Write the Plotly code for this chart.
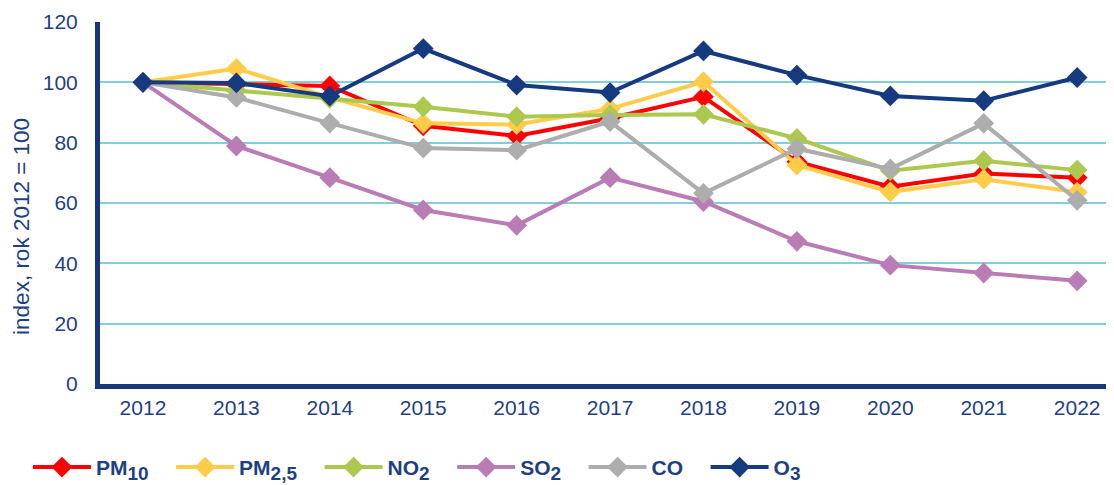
import plotly.graph_objects as go

years = ["2012", "2013", "2014", "2015", "2016", "2017", "2018", "2019", "2020", "2021", "2022"]

pm10 = [100, 99.3, 98.8, 85.6, 82.2, 88.1, 95.2, 73.7, 65.4, 69.8, 68.4]
pm25 = [100, 104.6, 95.0, 86.4, 86.0, 91.2, 100.2, 72.6, 63.7, 67.9, 63.6]
no2 = [100, 97.2, 94.7, 91.9, 88.6, 89.2, 89.4, 81.4, 70.7, 74.0, 70.9]
so2 = [100, 78.9, 68.4, 57.7, 52.6, 68.4, 60.5, 47.3, 39.4, 36.8, 34.2]
co = [100, 95.0, 86.5, 78.2, 77.5, 87.0, 63.2, 78.0, 71.3, 86.4, 60.9]
o3 = [100, 99.8, 95.4, 111.2, 99.1, 96.6, 110.4, 102.4, 95.5, 93.9, 101.6]

def sub(s):
    return '<sub><span style="font-size:19px">' + s + '</span></sub>'

names = ["PM" + sub("10"), "PM" + sub("2,5"), "NO" + sub("2"), "SO" + sub("2"), "CO", "O" + sub("3")]
series = [pm10, pm25, no2, so2, co, o3]
colors = ["#FF0000", "#FFCC4A", "#ADC84E", "#B97CB4", "#ADADAD", "#163A80"]

navy = "#1F3F85"
pad = "\u00a0\u00a0\u00a0"
fig = go.Figure()
for name, vals, col in zip(names, series, colors):
    fig.add_trace(go.Scatter(
        x=years, y=vals, name=name + pad, mode="lines+markers",
        line=dict(color=col, width=4),
        marker=dict(symbol="diamond", size=16, color=col),
    ))

fig.update_layout(
    width=1114, height=485,
    margin=dict(l=92, r=0, t=14, b=109, autoexpand=False),
    paper_bgcolor="white", plot_bgcolor="white",
    font=dict(family="Liberation Sans, Arial", size=21, color=navy),
    showlegend=True,
    legend=dict(
        orientation="h", x=-0.0705, xanchor="left", y=-0.287, yanchor="bottom",
        font=dict(size=21, color=navy, family="Liberation Sans, Arial", weight="bold"),
        itemwidth=58, traceorder="normal",
    ),
    xaxis=dict(
        type="category", range=[-0.46, 10.48],
        showgrid=False, showline=True, linecolor="#17367D", linewidth=5,
        ticks="", ticklabelstandoff=1, zeroline=False,
    ),
    yaxis=dict(
        range=[0, 120], dtick=20, tick0=0,
        showgrid=True, gridcolor="#80CFD9", gridwidth=2,
        showline=True, linecolor="#17367D", linewidth=5,
        ticks="", ticklabelstandoff=13, zeroline=False,
    ),
    annotations=[dict(
        text="index, rok 2012 = 100", textangle=-90, showarrow=False,
        xref="paper", yref="paper", x=-0.0763, y=0.434,
        xanchor="center", yanchor="middle",
        font=dict(size=22.5, color=navy),
    )],
)
fig.write_html("out.html")
